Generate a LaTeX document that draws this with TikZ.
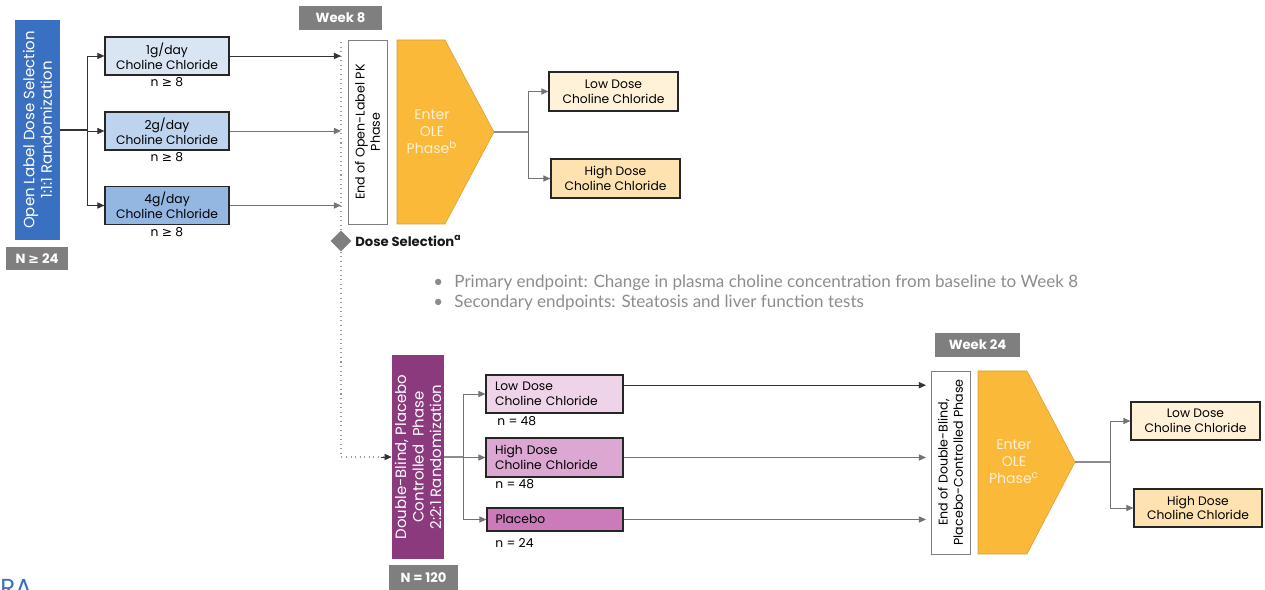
\documentclass[tikz,border=0pt]{standalone}
\usepackage{fontspec}
\setmainfont{Poppins}
\newfontfamily\bulletfont{Lato}
\newfontfamily\symfont{DejaVu Sans}
\usetikzlibrary{arrows.meta,positioning,shapes.geometric,calc}
\definecolor{BlueArm}{HTML}{3A70C1}
\definecolor{DoseA}{HTML}{DAE5F3}
\definecolor{DoseB}{HTML}{BDD3EE}
\definecolor{DoseC}{HTML}{94B7E2}
\definecolor{WeekGray}{HTML}{7F7F7F}
\definecolor{OleFill}{HTML}{FBB93A}
\definecolor{OleText}{HTML}{FDF0D5}
\definecolor{LowFill}{HTML}{FFF2D9}
\definecolor{HighFill}{HTML}{FEE3B1}
\definecolor{PurpleArm}{HTML}{8C3A7E}
\definecolor{PinkA}{HTML}{EFD3E9}
\definecolor{PinkB}{HTML}{DDA7D3}
\definecolor{PinkC}{HTML}{CC7BBA}
\definecolor{BulletGray}{HTML}{8C8C8C}
\newcommand{\atleast}{{\symfont ≥}}
\tikzset{
  sz/.style 2 args={minimum width=#1*0.02cm,minimum height=#2*0.02cm},
  arm box/.style={draw=black!85,line width=0.7pt,inner sep=0pt,align=center,
    font=\fontsize{7}{8.4}\selectfont},
  side box/.style={rotate=90,inner sep=0pt,align=center,text=white,
    font=\fontsize{8.5}{10}\selectfont},
  week box/.style={fill=WeekGray,text=white,inner sep=0pt,
    font=\bfseries\fontsize{7.5}{8.5}\selectfont},
  end box/.style={draw=WeekGray,fill=white,rotate=90,inner sep=0pt,align=center,
    font=\fontsize{7.2}{8.6}\selectfont},
  ole text/.style={text=OleText,align=center,inner sep=0pt,font=\fontsize{8}{9.6}\selectfont},
  count/.style={inner sep=0pt,font=\fontsize{7}{8}\selectfont},
  arm arrow/.style={-{Triangle[length=4pt,width=3.5pt]},draw=black!80,line width=0.5pt},
  plain line/.style={draw=black!45,line width=0.6pt},
  dot line/.style={draw=black!40,dotted,line width=0.6pt}
}

\begin{document}
\begin{tikzpicture}[x=0.02cm,y=-0.02cm]
  \useasboundingbox (0,0) rectangle (1265,590);

  % open-label dose selection
  \node[side box,fill=BlueArm,sz={220}{45}] (olsel) at (37.5,130)
    {Open Label Dose Selection\\1:1:1 Randomization};
  \node[week box,sz={62}{23}] (nol) at (37,258.5) {N \atleast{} 24};
  \node[arm box,fill=DoseA,sz={124}{38}] (dose1) at (167,56) {1g/day\\Choline Chloride};
  \node[arm box,fill=DoseB,sz={124}{38}] (dose2) at (167,131) {2g/day\\Choline Chloride};
  \node[arm box,fill=DoseC,sz={124}{38}] (dose4) at (167,205.5) {4g/day\\Choline Chloride};
  \node[count] (n1) at (167,82) {n \atleast{} 8};
  \node[count] (n2) at (167,157) {n \atleast{} 8};
  \node[count] (n4) at (167,232) {n \atleast{} 8};
  \coordinate (j0) at (87,130);
  \draw[plain line,draw=black!80] (olsel.south) -- (j0);
  \draw[arm arrow] (j0) |- (dose1.west);
  \draw[arm arrow] (j0) |- (dose2.west);
  \draw[arm arrow] (j0) |- (dose4.west);

  % week 8
  \node[week box,sz={83}{24}] (week8) at (340.5,18) {Week 8};
  \node[end box,sz={184}{39}] (endpk) at (367.5,132) {End of Open-Label PK\\Phase};
  \coordinate (dtop) at (341,42);
  \node[diamond,fill=WeekGray,inner sep=0pt,sz={21}{21}] (dsel) at (341,241) {};
  \node[anchor=west,inner sep=0pt,text=black!90,font=\bfseries\fontsize{7.5}{9}\selectfont]
    (dsellab) at (355,241) {Dose Selection\textsuperscript{a}};
  \draw[dot line] (dtop) -- (dsel.north);
  \draw[arm arrow] (dose1.east) -- (dose1 -| dtop);
  \draw[arm arrow,draw=black!55] (dose2.east) -- (dose2 -| dtop);
  \draw[arm arrow,draw=black!55] (dose4.east) -- (dose4 -| dtop);

  \fill[OleFill,draw=OleFill!85!black,line width=0.3pt]
    (397,40) -- (445,40) -- (494,132) -- (445,224) -- (397,224) -- cycle;
  \coordinate (ole1tip) at (494,132);
  \node[ole text] (ole1) at (432,132) {Enter\\OLE\\Phase\textsuperscript{b}};
  \node[arm box,fill=LowFill,sz={129}{39}] (low1) at (613.5,91.5) {Low Dose\\Choline Chloride};
  \node[arm box,fill=HighFill,sz={129}{39}] (high1) at (615.5,178.5) {High Dose\\Choline Chloride};
  \coordinate (j1) at (528,132);
  \draw[plain line] (ole1tip) -- (j1);
  \draw[arm arrow,draw=black!55] (j1) |- (low1.west);
  \draw[arm arrow,draw=black!55] (j1) |- (high1.west);

  % endpoints
  \node[anchor=west,inner sep=0pt,text=BulletGray,align=left,
    font=\bulletfont\fontsize{9.7}{11.4}\selectfont] (endpts) at (433,293)
    {\makebox[12pt][l]{\textbullet}Primary endpoint: Change in plasma choline concentration from baseline to Week 8\\
     \makebox[12pt][l]{\textbullet}Secondary endpoints: Steatosis and liver function tests};

  % double-blind phase
  \node[side box,fill=PurpleArm,sz={204}{52}] (dbbox) at (418,457)
    {Double-Blind, Placebo\\Controlled\ \ Phase\\2:2:1 Randomization};
  \node[week box,sz={69}{26}] (n120) at (423.5,578) {N = 120};
  \draw[dot line] (dsel.south) |- (dbbox.north);
  \draw[-{Triangle[length=4pt,width=3.5pt]},draw=black!80,line width=0.4pt]
    ([xshift=-6pt]dbbox.north) -- (dbbox.north);
  \node[arm box,fill=PinkA,sz={137}{38},align=left,text width=2.38cm] (lowdb) at (554.5,394)
    {Low Dose\\Choline Chloride};
  \node[arm box,fill=PinkB,sz={137}{39},align=left,text width=2.38cm] (highdb) at (554.5,457.5)
    {High Dose\\Choline Chloride};
  \node[arm box,fill=PinkC,sz={136}{23},align=left,text width=2.38cm] (placebo) at (555,519.5)
    {Placebo};
  \node[count,anchor=west] (n48a) at (497,421) {n = 48};
  \node[count,anchor=west] (n48b) at (495,484) {n = 48};
  \node[count,anchor=west] (n24) at (495,543) {n = 24};
  \coordinate (j2) at (463,457);
  \draw[plain line] (dbbox.south) -- (j2);
  \draw[arm arrow,draw=black!55] (j2) |- (lowdb.west);
  \draw[arm arrow,draw=black!55] (j2) |- (highdb.west);
  \draw[arm arrow,draw=black!55] (j2) |- (placebo.west);

  % week 24
  \node[week box,sz={85}{24}] (week24) at (977.5,345) {Week 24};
  \node[end box,sz={183}{39}] (enddb) at (950.5,462.5)
    {End of Double-Blind,\\Placebo-Controlled Phase};
  \coordinate (stop2) at (926,462);
  \draw[arm arrow] ([yshift=5pt]lowdb.east) -- ([yshift=5pt]lowdb.east -| stop2);
  \draw[arm arrow,draw=black!55] (highdb.east) -- (highdb -| stop2);
  \draw[arm arrow,draw=black!55] (placebo.east) -- (placebo -| stop2);

  \fill[OleFill,draw=OleFill!85!black,line width=0.3pt]
    (978,371) -- (1027,371) -- (1075,462) -- (1027,554) -- (978,554) -- cycle;
  \coordinate (ole2tip) at (1075,462);
  \node[ole text] (ole2) at (1014,462) {Enter\\OLE\\Phase\textsuperscript{c}};
  \node[arm box,fill=LowFill,sz={129}{38}] (low2) at (1195.5,421) {Low Dose\\Choline Chloride};
  \node[arm box,fill=HighFill,sz={128}{38}] (high2) at (1198,508) {High Dose\\Choline Chloride};
  \coordinate (j3) at (1110,462);
  \draw[plain line] (ole2tip) -- (j3);
  \draw[arm arrow,draw=black!55] (j3) |- (low2.west);
  \draw[arm arrow,draw=black!55] (j3) |- (high2.west);

  \node[anchor=north west,inner sep=0pt,text=BlueArm,font=\fontsize{14}{14}\selectfont]
    (logo) at (0,579) {RA};
\end{tikzpicture}
\end{document}
